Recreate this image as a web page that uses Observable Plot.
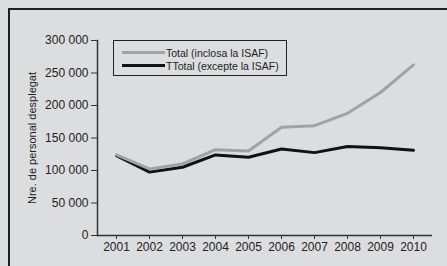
<!DOCTYPE html>
<html>
<head>
<meta charset="utf-8">
<script src="https://cdn.jsdelivr.net/npm/d3@7"></script>
<script src="https://cdn.jsdelivr.net/npm/@observablehq/plot@0.6"></script>
<style>
  html, body { margin: 0; padding: 0; background: #dcdddf; width: 447px; height: 266px; overflow: hidden; }
  #wrap { position: relative; width: 447px; height: 266px; font-family: "Liberation Sans", Arial, sans-serif; }
  #border { position: absolute; left: 8px; top: 8px; width: 500px; height: 300px; border-left: 2px solid #1e1e1e; border-top: 2px solid #1e1e1e; }
  #chart { position: absolute; left: 0; top: 0; }
  #legend { position: absolute; left: 113px; top: 40px; width: 174px; height: 36px; border: 1px solid #222; box-sizing: border-box; font-size: 10.5px; color: #222; }
  .row { position: absolute; left: 8px; height: 13px; display: flex; align-items: center; white-space: nowrap; }
  .sw { width: 43px; height: 3px; margin-right: 1px; }
</style>
</head>
<body>
<div id="wrap">
  <div id="border"></div>
  <div id="chart"></div>
  <div id="legend"></div>
</div>
<script>
const years = [2001, 2002, 2003, 2004, 2005, 2006, 2007, 2008, 2009, 2010];
const totalInclISAF = [124000, 102500, 110000, 132000, 130000, 166500, 169000, 188000, 220000, 262500];
const totalExclISAF = [123000, 97500, 105000, 124000, 120500, 133000, 127500, 137000, 135000, 131000];
const seriesNames = ["Total (inclosa la ISAF)", "TTotal (excepte la ISAF)"];
const seriesColors = ["#a2a2a2", "#111111"];
const yTicks = [0, 50000, 100000, 150000, 200000, 250000, 300000];
const yLabel = "Nre. de personal desplegat";

const rows = [];
years.forEach((y, i) => {
  rows.push({year: y, value: totalInclISAF[i], series: seriesNames[0]});
  rows.push({year: y, value: totalExclISAF[i], series: seriesNames[1]});
});

const fmt = d => d3.format(",")(d).replace(/,/g, " ");

const plot = Plot.plot({
  width: 447,
  height: 266,
  marginLeft: 97,
  marginRight: 15,
  marginTop: 40,
  marginBottom: 31,
  style: {background: "transparent", fontFamily: "Liberation Sans, Arial, sans-serif", fontSize: "12px", color: "#222"},
  x: {type: "point", domain: years, padding: 0.475},
  y: {domain: [0, 300000]},
  color: {domain: seriesNames, range: seriesColors},
  marks: [
    Plot.frame({anchor: "left", stroke: "#333", strokeWidth: 1.5}),
    Plot.ruleY([0], {stroke: "#333", strokeWidth: 1.5}),
    Plot.axisY({ticks: yTicks, tickFormat: fmt, tickSize: 6, tickPadding: 3, stroke: "#333", fontSize: 12, label: null}),
    Plot.axisY({ticks: [], label: yLabel, labelAnchor: "center", labelArrow: "none", labelOffset: 69, fontSize: 11}),
    Plot.axisX({tickSize: 4, tickPadding: 3, stroke: "#333", label: null, tickFormat: d => String(d)}),
    Plot.line(rows, {x: "year", y: "value", stroke: "series", strokeWidth: 3, strokeLinejoin: "miter", sort: {channel: "z"}})
  ]
});
document.getElementById("chart").appendChild(plot);

const leg = document.getElementById("legend");
seriesNames.forEach((n, i) => {
  const r = document.createElement("div");
  r.className = "row";
  r.style.top = (5 + i * 13) + "px";
  const sw = document.createElement("div");
  sw.className = "sw";
  sw.style.background = seriesColors[i];
  const t = document.createElement("span");
  t.textContent = n;
  r.appendChild(sw); r.appendChild(t);
  leg.appendChild(r);
});
</script>
</body>
</html>
